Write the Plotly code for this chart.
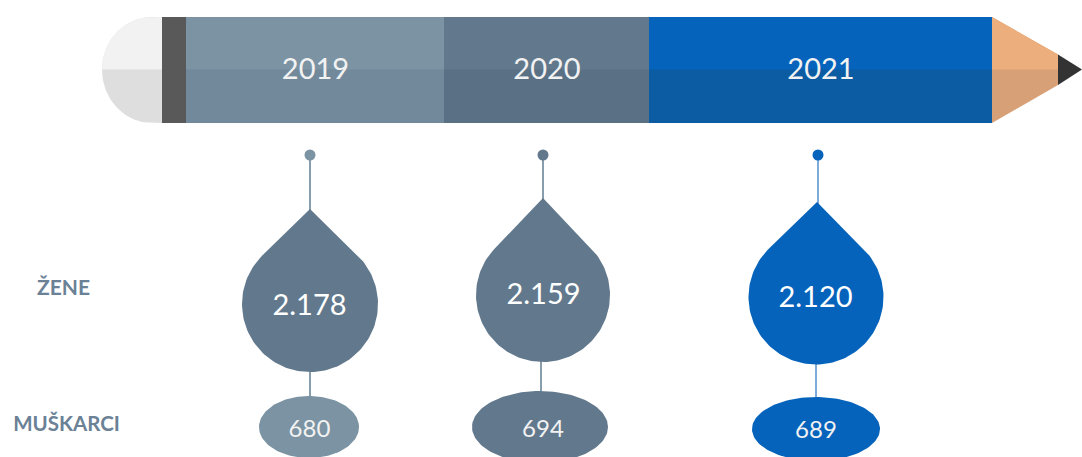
import numpy as np
import plotly.graph_objects as go

# --- data ---
years = ["2019", "2020", "2021"]
women = ["2.178", "2.159", "2.120"]
men = ["680", "694", "689"]
row_labels = ["ŽENE", "MUŠKARCI"]

# --- layout geometry (picture pixels) ---
W, H = 1082, 457
P_TOP, P_MID, P_BOT = 17, 69.5, 123
seg_edges = [186, 444, 649, 992]
seg_top = ["#7B93A3", "#62798D", "#0563BB"]
seg_bot = ["#71899A", "#5A7085", "#0B5CA3"]
drop_fill = ["#62798D", "#62798D", "#0563BB"]
oval_fill = ["#7B93A3", "#62798D", "#0563BB"]
dot_fill = ["#7B93A3", "#62798D", "#0563BB"]
stem_col = ["#7B93A3", "#7B93A3", "#6FA3D6"]
dot_x = [310, 543, 818]
drop_cx = [310, 543, 816]
drop_cy = [304, 295, 297]
drop_r = [68, 67, 67.5]
drop_tip_y = [209, 198, 202]
drop_tip_x = [310, 543, 817]
oval_cx = [309, 540, 816]
oval_cy = [427, 427, 429]
oval_rx = [50, 68, 64]
oval_ry = [31, 36, 32]
low_stem_x = [310, 541, 816]
DOT_Y = 155

FONT = "Lato"
LABEL_COL = "#6A8196"

fig = go.Figure()


def poly(xs, ys, color):
    fig.add_trace(go.Scatter(x=list(xs), y=list(ys), mode="lines", fill="toself",
                             fillcolor=color, line=dict(width=0, color=color),
                             hoverinfo="skip", showlegend=False))


def stem(x0, y0, x1, y1, color):
    fig.add_trace(go.Scatter(x=[x0, x1], y=[y0, y1], mode="lines",
                             line=dict(width=1.8, color=color),
                             hoverinfo="skip", showlegend=False))


def label(x, y, s, size, color, weight="normal"):
    fig.add_trace(go.Scatter(x=[x], y=[y], mode="text", text=[s], textposition="middle center",
                             textfont=dict(family=FONT, size=size, color=color, weight=weight),
                             hoverinfo="skip", showlegend=False, cliponaxis=False))


# pencil: eraser (lower half drawn full height, upper half laid over it)
a = np.linspace(0, np.pi / 2, 40)
ER_R, ER_C, rx = 162, 152, 50
up = P_MID - P_TOP
dn = P_BOT - P_MID
ex = ER_C - rx * np.sin(a)
poly(np.r_[ER_R, ER_C, ex, ex[::-1], ER_C, ER_R],
     np.r_[P_BOT, P_BOT, P_MID + dn * np.cos(a), P_MID - up * np.cos(a[::-1]), P_TOP, P_TOP], "#DEDEDE")
poly(np.r_[ER_R, ER_C, ex, ER_R], np.r_[P_TOP, P_TOP, P_MID - up * np.cos(a), P_MID], "#F2F2F2")
# ferrule
poly([162, 186, 186, 162], [P_TOP, P_TOP, P_BOT, P_BOT], "#595959")
# coloured segments
for i in range(3):
    l, r = seg_edges[i], seg_edges[i + 1]
    poly([l, r, r, l], [P_TOP, P_TOP, P_BOT, P_BOT], seg_bot[i])
    poly([l, r, r, l], [P_TOP, P_TOP, P_MID, P_MID], seg_top[i])
# wood + lead
poly([992, 1058, 1058, 992], [P_BOT, 85, 54.5, P_TOP], "#D8A077")
poly([992, 1058, 1058, 992], [P_TOP, 54.5, P_MID, P_MID], "#EBAE7C")
poly([1058, 1082, 1058], [54.5, 69.5, 85], "#333333")

for i in range(3):
    cx, cy, r, tx, ty = drop_cx[i], drop_cy[i], drop_r[i], drop_tip_x[i], drop_tip_y[i]
    # stems and dot
    stem(dot_x[i], DOT_Y, dot_x[i], ty + 2, stem_col[i])
    stem(low_stem_x[i], cy + r - 2, low_stem_x[i], oval_cy[i] - oval_ry[i] + 2, stem_col[i])
    fig.add_trace(go.Scatter(x=[dot_x[i]], y=[DOT_Y], mode="markers",
                             marker=dict(size=11, color=dot_fill[i], line=dict(width=0)),
                             hoverinfo="skip", showlegend=False))
    # teardrop: tip plus the circle arc between the two tangent points
    d = np.hypot(tx - cx, ty - cy)
    phi = np.arccos(r / d)
    base = np.arctan2(ty - cy, tx - cx)
    t = np.linspace(base + phi, base + 2 * np.pi - phi, 120)
    poly(np.r_[tx, cx + r * np.cos(t)], np.r_[ty, cy + r * np.sin(t)], drop_fill[i])
    # oval
    t = np.linspace(0, 2 * np.pi, 120)
    poly(oval_cx[i] + oval_rx[i] * np.cos(t), oval_cy[i] + oval_ry[i] * np.sin(t), oval_fill[i])

# text
year_x = [315.5, 547, 821]
year_y = [72, 72, 72]
for x, y, s in zip(year_x, year_y, years):
    label(x, y, s, 29, "#F2F2F2")
woman_x = [309.5, 543.5, 815.5]
woman_y = [308, 297, 300]
for x, y, s in zip(woman_x, woman_y, women):
    label(x, y, s, 29, "#FFFFFF")
man_x = [309.5, 543, 816]
man_y = [430.5, 430.5, 431.5]
for x, y, s in zip(man_x, man_y, men):
    label(x, y, s, 24, "#F2F2F2")
label(63.5, 290, row_labels[0], 21, LABEL_COL, "bold")
label(66.5, 426, row_labels[1], 20.5, LABEL_COL, "bold")

fig.update_layout(
    width=W, height=H, margin=dict(l=0, r=0, t=0, b=0),
    paper_bgcolor="white", plot_bgcolor="white",
    xaxis=dict(range=[0, W], visible=False, fixedrange=True),
    yaxis=dict(range=[H, 0], visible=False, fixedrange=True),
    showlegend=False,
)
fig.write_html("out.html", config={"displayModeBar": False},
               post_script="document.body.style.margin='0';document.body.style.overflow='hidden';")
